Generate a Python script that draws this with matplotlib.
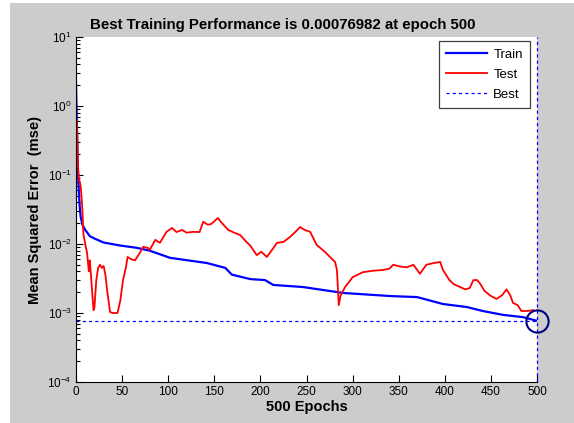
import numpy as np
import matplotlib
matplotlib.use("Agg")
import matplotlib.pyplot as plt
from matplotlib.patches import Rectangle
from matplotlib.ticker import LogLocator, NullFormatter

plt.rcParams['font.family'] = ['Liberation Sans', 'DejaVu Sans']

# train curve
train_epoch = [0, 1, 2, 3, 4, 5, 7, 10, 15, 20, 30, 48, 66, 80, 102, 142, 162,
               169, 189, 205, 214, 246, 290, 341, 370, 398, 424, 441, 463, 485, 500]
train_mse = [2.2, 0.5, 0.12, 0.06, 0.035, 0.025, 0.019, 0.016, 0.013, 0.012, 0.0105,
             0.0095, 0.0088, 0.0080, 0.0063, 0.0053, 0.0045, 0.0036, 0.0031, 0.0030,
             0.00255, 0.00238, 0.00195, 0.00176, 0.0017, 0.00135, 0.00122, 0.00107,
             0.00094, 0.00087, 0.00077]

# test curve
test_epoch = [0, 1, 2, 3, 5, 6, 7, 8, 10, 12, 14, 15, 17, 19, 20, 22, 24, 26, 28, 30,
              32, 34, 37, 40, 45, 48, 51, 54, 56, 60, 64, 68, 73, 78, 80, 86, 91, 98,
              104, 109, 115, 120, 127, 134, 138, 143, 147, 151, 154, 157, 160, 165,
              172, 178, 184, 189, 196, 201, 207, 212, 218, 225, 232, 238, 243, 248,
              254, 261, 270, 278, 281, 283, 285, 287, 292, 296, 300, 311, 322, 333,
              340, 344, 352, 359, 366, 373, 380, 388, 395, 398, 405, 410, 416, 422,
              427, 431, 435, 438, 443, 449, 456, 462, 467, 471, 474, 479, 483, 490, 496]
test_mse = [0.7, 0.6, 0.15, 0.09, 0.07, 0.048, 0.03, 0.014, 0.01, 0.0074, 0.004, 0.0058,
            0.0025, 0.0011, 0.0012, 0.003, 0.0045, 0.005, 0.0045, 0.0048, 0.0035, 0.002,
            0.00103, 0.001, 0.001, 0.0015, 0.003, 0.0045, 0.0065, 0.006, 0.0058, 0.007,
            0.0091, 0.0088, 0.0082, 0.0115, 0.0104, 0.0149, 0.0171, 0.0149, 0.016,
            0.0146, 0.015, 0.0149, 0.021, 0.019, 0.0196, 0.022, 0.0238, 0.021, 0.019,
            0.016, 0.0145, 0.0135, 0.011, 0.0095, 0.0069, 0.0077, 0.0065, 0.008, 0.0104,
            0.0107, 0.0126, 0.015, 0.0176, 0.016, 0.015, 0.0097, 0.0077, 0.006, 0.0055,
            0.0042, 0.0013, 0.0018, 0.0024, 0.0028, 0.0033, 0.0039, 0.0041, 0.0042,
            0.0044, 0.005, 0.0047, 0.0046, 0.005, 0.0037, 0.005, 0.0053, 0.0055, 0.0042,
            0.003, 0.0026, 0.0024, 0.0022, 0.0023, 0.003, 0.003, 0.0027, 0.0021, 0.0018,
            0.0016, 0.0018, 0.0022, 0.0018, 0.0014, 0.0013, 0.00107, 0.00107, 0.0011]

best_epoch = 500
best_perf = 0.00076982
n_epochs = 500
y_ticks = [1e-4, 1e-3, 1e-2, 1e-1, 1e0, 1e1]
x_ticks = list(range(0, 501, 50))

fig = plt.figure(figsize=(5.74, 4.23), dpi=100, facecolor='white')
# gray figure panel, thin white strip on left/top
fig.patches.append(Rectangle((10 / 574, 0), 1, 1 - 3 / 423, transform=fig.transFigure,
                             facecolor='#cccccc', edgecolor='none', zorder=-1))

ax = fig.add_axes([76 / 574, 1 - 382 / 423, 461 / 574, 345 / 423])
ax.set_facecolor('white')

ax.plot(train_epoch, train_mse, color='#0000ff', lw=1.6, label='Train')
ax.plot(test_epoch, test_mse, color='#ff0000', lw=1.3, label='Test')
ax.axhline(best_perf, color='#0000ff', lw=0.9, ls=(0, (2.5, 2.5)), label='Best')
ax.axvline(best_epoch, color='#0000ff', lw=0.9, ls=(0, (2.5, 2.5)), clip_on=False)
ax.plot([best_epoch], [best_perf], 'o', ms=16, mfc='none', mec='#000080', mew=1.5,
        clip_on=False)

ax.set_yscale('log')
ax.set_xlim(0, n_epochs)
ax.set_ylim(1e-4, 1e1)
ax.set_xticks(x_ticks)
ax.set_yticks(y_ticks)
ax.yaxis.set_minor_locator(LogLocator(base=10, subs=np.arange(2, 10), numticks=20))
ax.yaxis.set_minor_formatter(NullFormatter())
ax.tick_params(direction='in', labelsize=8.5, length=5, width=0.8, pad=3)
ax.tick_params(which='minor', direction='in', length=3, width=0.8)
for s in ['top', 'right']:
    ax.spines[s].set_visible(False)

ax.set_title('Best Training Performance is 0.00076982 at epoch 500',
             fontsize=10.8, fontweight='bold', pad=6, x=0.449)
ax.set_xlabel('500 Epochs', fontsize=10.5, fontweight='bold', labelpad=1)
ax.set_ylabel('Mean Squared Error  (mse)', fontsize=10.5, fontweight='bold', labelpad=4)

leg = ax.legend(loc='upper right', bbox_to_anchor=(0.985, 0.988), borderaxespad=0,
                fontsize=9.5, fancybox=False, framealpha=1, edgecolor='#404040',
                handlelength=3.1, borderpad=0.55, labelspacing=0.6, handletextpad=0.5)
leg.get_frame().set_linewidth(0.9)

fig.savefig('out.png', dpi=100, facecolor=fig.get_facecolor())
